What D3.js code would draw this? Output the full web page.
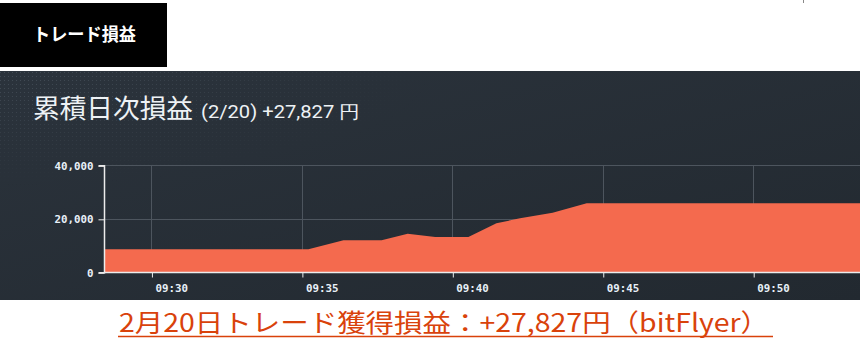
<!DOCTYPE html>
<html><head><meta charset="utf-8">
<script src="https://cdn.jsdelivr.net/npm/d3@7"></script>
<style>html,body{margin:0;padding:0;background:#fff;overflow:hidden}</style>
</head><body>
<script>
// ---- data ----
const times = ["09:28:26","09:35:13","09:36:23","09:37:39","09:38:31","09:39:26","09:40:32","09:41:28","09:42:15","09:43:20","09:44:28","09:53:33"];
const values = [8600,8600,12000,12000,14400,13200,13200,18300,20200,22300,25800,25800];
const yTicks = [0,20000,40000];
const xTickLabels = ["09:30","09:35","09:40","09:45","09:50"];
const headerLabel = "トレード損益";
const titleMain = "累積日次損益";
const titleSub = "(2/20) +27,827 円";
const caption = "2月20日トレード獲得損益：+27,827円（bitFlyer）";

const W = 860, H = 340;
const parse = d3.timeParse("%H:%M:%S");
const parseTick = d3.timeParse("%H:%M");
const data = times.map((t,i)=>({t:parse(t), v:values[i]}));

const svg = d3.select("body").append("svg").attr("width",W).attr("height",H);
const defs = svg.append("defs");
const bg = defs.append("linearGradient").attr("id","bg").attr("x1","0").attr("y1","0").attr("x2","1").attr("y2","1");
bg.append("stop").attr("offset","0").attr("stop-color","#2b333c");
bg.append("stop").attr("offset","1").attr("stop-color","#222930");
const pat = defs.append("pattern").attr("id","dots").attr("width",4).attr("height",4).attr("patternUnits","userSpaceOnUse");
pat.append("rect").attr("width",1).attr("height",1).attr("fill","#46505a");
const rg = defs.append("radialGradient").attr("id","fade").attr("cx","0").attr("cy","0").attr("r","0.5");
rg.append("stop").attr("offset","0").attr("stop-color","#fff").attr("stop-opacity",0.9);
rg.append("stop").attr("offset","1").attr("stop-color","#fff").attr("stop-opacity",0);
const mask = defs.append("mask").attr("id","m");
mask.append("rect").attr("x",0).attr("y",71).attr("width",W).attr("height",229).attr("fill","url(#fade)");

// header
svg.append("rect").attr("x",0).attr("y",3).attr("width",167).attr("height",64).attr("fill","#000");
svg.append("text").attr("x",33).attr("y",41)
  .attr("font-family","'Noto Sans CJK JP'").attr("font-weight","bold").attr("font-size",18)
  .attr("textLength",103).attr("lengthAdjust","spacingAndGlyphs")
  .attr("fill","#fff").text(headerLabel);
svg.append("line").attr("x1",803.5).attr("x2",803.5).attr("y1",0).attr("y2",3).attr("stroke","#888");

// panel
svg.append("rect").attr("x",0).attr("y",71).attr("width",W).attr("height",229).attr("fill","url(#bg)");
svg.append("rect").attr("x",0).attr("y",71).attr("width",W).attr("height",229).attr("fill","url(#dots)").attr("mask","url(#m)");

svg.append("text").attr("x",33).attr("y",118).attr("fill","#eef2f5")
  .attr("font-family","'Noto Sans CJK JP'").attr("font-size",26.5)
  .attr("textLength",160).attr("lengthAdjust","spacingAndGlyphs").text(titleMain);
svg.append("text").attr("x",201).attr("y",118).attr("fill","#eef2f5")
  .attr("font-family","Roboto").attr("font-size",17.5)
  .attr("textLength",159).attr("lengthAdjust","spacingAndGlyphs").text(titleSub);

// scales
const x = d3.scaleTime().domain([data[0].t, data[data.length-1].t]).range([104.3, 860]);
const y = d3.scaleLinear().domain([0,40000]).range([272.3,165.3]);
const tickDates = xTickLabels.map(s=>parseTick(s));

const g = svg.append("g");
// grid
g.selectAll(".gy").data(yTicks.filter(d=>d>0)).join("line")
  .attr("x1",104).attr("x2",W).attr("y1",d=>Math.round(y(d))+0.5).attr("y2",d=>Math.round(y(d))+0.5)
  .attr("stroke","#4d555e").attr("stroke-width",1);
g.selectAll(".gx").data(tickDates).join("line")
  .attr("x1",d=>Math.round(x(d))+0.5).attr("x2",d=>Math.round(x(d))+0.5).attr("y1",165).attr("y2",272)
  .attr("stroke","#4d555e").attr("stroke-width",1);

// area
const area = d3.area().x(d=>x(d.t)).y0(y(0)).y1(d=>y(d.v));
g.append("path").datum(data).attr("d",area).attr("fill","#f46a4e");

// axes
const yAxis = d3.axisLeft(y).tickValues(yTicks).tickSize(6).tickPadding(5).tickFormat(d3.format(","));
const xAxis = d3.axisBottom(x).tickValues(tickDates).tickSize(5).tickPadding(7).tickFormat(d3.timeFormat("%H:%M"));
const ya = svg.append("g").attr("transform","translate(104.5,0.5)").call(yAxis);
const xa = svg.append("g").attr("transform","translate(0.5,272.5)").call(xAxis);
[ya,xa].forEach(a=>{
  a.select(".domain").attr("stroke","#ececec").attr("stroke-width",1.5);
  a.selectAll(".tick line").attr("stroke","#ececec");
  a.selectAll("text").attr("fill","#e8f0f8").attr("font-family","'DejaVu Sans Mono'")
   .attr("font-weight","bold").attr("font-size",10.8);
});
xa.selectAll(".tick text").attr("text-anchor","start").attr("x",3);
ya.select(".domain").attr("d","M-6,165.3H0V272.3H-6");
xa.select(".domain").attr("d","M104,0H860");

// caption
svg.append("text").attr("x",119).attr("y",332).attr("fill","#d9420b")
  .attr("font-family","'Noto Sans CJK JP'").attr("font-size",25)
  .attr("textLength",650).attr("lengthAdjust","spacingAndGlyphs").text(caption);
svg.append("line").attr("x1",118).attr("x2",773).attr("y1",336.5).attr("y2",336.5).attr("stroke","#d9420b").attr("stroke-width",1.5);
</script>
</body></html>
